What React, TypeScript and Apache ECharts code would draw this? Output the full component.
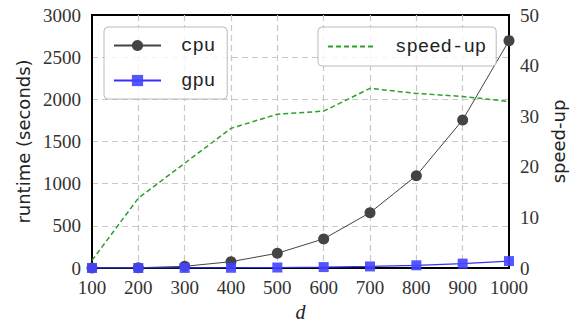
import React, { useEffect, useRef } from "react";
import * as echarts from "echarts";

const dValues = [100, 200, 300, 400, 500, 600, 700, 800, 900, 1000];
const cpuRuntime = [0.5, 3, 20, 75, 175, 345, 656, 1095, 1755, 2696];
const gpuRuntime = [0.4, 0.2, 1.0, 2.7, 5.8, 11, 18.5, 32, 52, 82];
const speedUp = [1.5, 13.8, 20.7, 27.6, 30.4, 31.0, 35.5, 34.5, 33.9, 32.9];

const serif = "Liberation Serif";
const sans = "DejaVu Sans";
const mono = "Liberation Mono";

export default function App() {
  const ref = useRef<HTMLDivElement>(null);
  useEffect(() => {
    if (!ref.current) return;
    document.body.style.margin = "0";
    const chart = echarts.init(ref.current, null, { renderer: "svg" });
    const pair = (ys: number[]) => dValues.map((d, i) => [d, ys[i]]);
    const plain = (v: number) => String(v);
    const gridLine = {
      show: true,
      showMinLine: false,
      showMaxLine: false,
      lineStyle: { color: "#c8c8c8", type: [6, 4], width: 1.2 },
    };
    chart.setOption({
      animation: false,
      backgroundColor: "#ffffff",
      grid: {
        left: 92,
        right: 67,
        top: 15,
        bottom: 54,
        show: true,
        borderColor: "#000",
        borderWidth: 2,
        backgroundColor: "transparent",
        outerBoundsMode: "none",
        containLabel: false,
      },
      legend: [
        {
          data: ["cpu", "gpu"],
          orient: "vertical",
          left: 104,
          top: 27,
          padding: [9, 12, 9, 9],
          itemGap: 16,
          itemWidth: 47,
          itemHeight: 14,
          borderColor: "#bbbbbb",
          borderWidth: 1,
          borderRadius: 4,
          backgroundColor: "rgba(255,255,255,0.8)",
          textStyle: {
            fontFamily: mono,
            fontSize: 19,
            color: "#222",
            padding: [0, 0, 0, 15],
          },
        },
        {
          data: [
            {
              name: "speed-up",
              itemStyle: { color: "rgba(0,0,0,0)", borderWidth: 0, opacity: 0 },
            },
          ],
          orient: "vertical",
          left: 318,
          top: 27,
          padding: [10, 10, 10, 9],
          itemWidth: 47,
          itemHeight: 14,
          borderColor: "#bbbbbb",
          borderWidth: 1,
          borderRadius: 4,
          backgroundColor: "rgba(255,255,255,0.8)",
          textStyle: {
            fontFamily: mono,
            fontSize: 19,
            color: "#222",
            padding: [0, 0, 0, 15],
          },
        },
      ],
      xAxis: {
        type: "value",
        min: 100,
        max: 1000,
        interval: 100,
        name: "d",
        nameLocation: "middle",
        nameGap: 32,
        nameTextStyle: {
          fontFamily: serif,
          fontStyle: "italic",
          fontSize: 20,
          color: "#222",
        },
        axisLine: { show: true, lineStyle: { color: "#000", width: 2 } },
        axisTick: { show: false },
        axisLabel: {
          fontFamily: serif,
          fontSize: 19,
          color: "#333",
          margin: 10,
          formatter: plain,
        },
        splitLine: gridLine,
      },
      yAxis: [
        {
          type: "value",
          min: 0,
          max: 3000,
          interval: 500,
          position: "left",
          name: "runtime (seconds)",
          nameLocation: "middle",
          nameGap: 58,
          nameRotate: 90,
          nameTextStyle: { fontFamily: sans, fontSize: 18, color: "#222" },
          axisLine: { show: true, lineStyle: { color: "#000", width: 2 } },
          axisTick: { show: false },
          axisLabel: {
            fontFamily: serif,
            fontSize: 19,
            color: "#333",
            margin: 11,
            formatter: plain,
          },
          splitLine: gridLine,
        },
        {
          type: "value",
          min: 0,
          max: 50,
          interval: 10,
          position: "right",
          name: "speed-up",
          nameLocation: "middle",
          nameGap: 36,
          nameRotate: 90,
          nameTextStyle: { fontFamily: sans, fontSize: 18, color: "#222" },
          axisLine: { show: true, lineStyle: { color: "#000", width: 2 } },
          axisTick: { show: false },
          axisLabel: {
            fontFamily: serif,
            fontSize: 19,
            color: "#333",
            margin: 11,
            formatter: plain,
          },
          splitLine: { show: false },
        },
      ],
      series: [
        {
          name: "speed-up",
          type: "line",
          yAxisIndex: 1,
          data: pair(speedUp),
          symbol: "none",
          lineStyle: { color: "#2ca02c", width: 1.5, type: [5, 3] },
          itemStyle: { color: "#2ca02c" },
          z: 2,
        },
        {
          name: "cpu",
          type: "line",
          yAxisIndex: 0,
          data: pair(cpuRuntime),
          symbol: "circle",
          symbolSize: 11,
          lineStyle: { color: "#444444", width: 1 },
          itemStyle: { color: "#444444" },
          z: 3,
        },
        {
          name: "gpu",
          type: "line",
          yAxisIndex: 0,
          data: pair(gpuRuntime),
          symbol: "rect",
          symbolSize: 10,
          lineStyle: { color: "#3333ff", width: 1.2 },
          itemStyle: { color: "#4444ff", opacity: 0.9 },
          z: 4,
        },
      ],
    });
    return () => chart.dispose();
  }, []);
  return <div ref={ref} style={{ width: 576, height: 322 }} />;
}
